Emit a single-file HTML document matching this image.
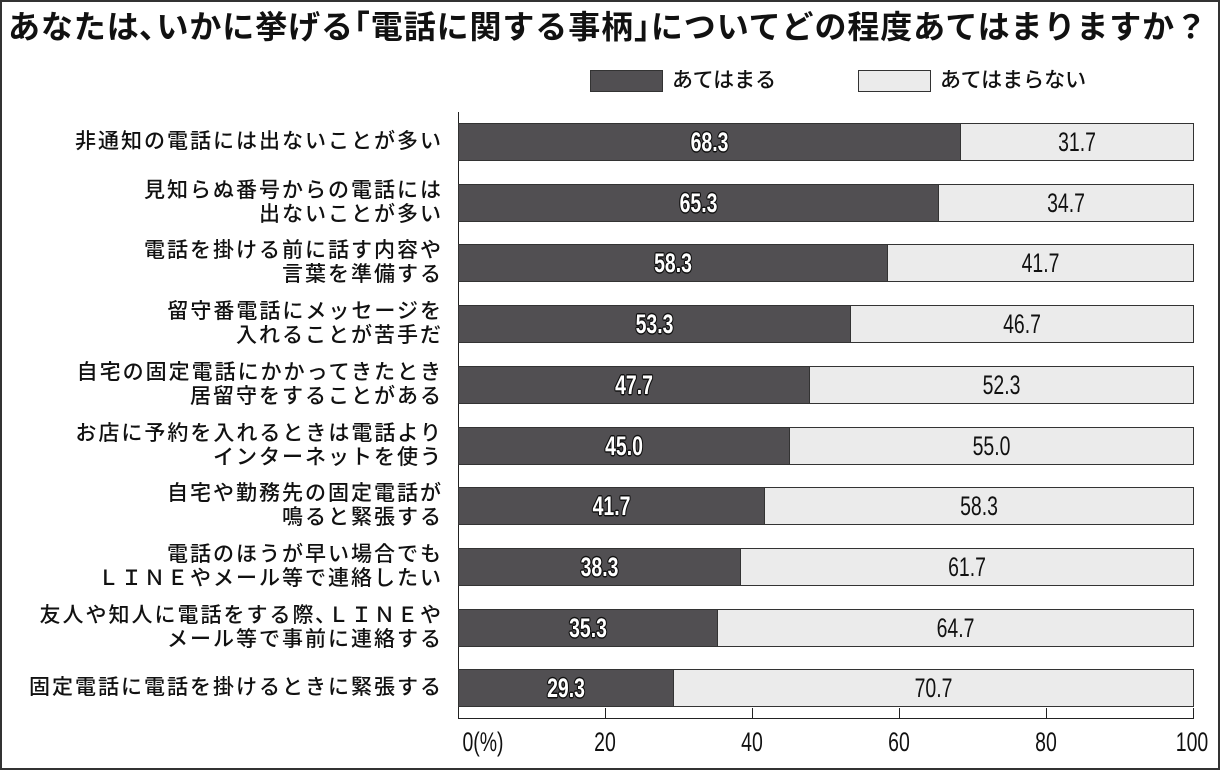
<!DOCTYPE html>
<html><head><meta charset="utf-8"><style>
*{margin:0;padding:0;box-sizing:border-box}
body{width:1220px;height:770px;background:#fff;position:relative;overflow:hidden;font-family:"Liberation Sans","Noto Sans CJK JP",sans-serif;color:#111}
.frame{position:absolute;left:0;top:0;width:1220px;height:770px;border:2px solid #333}
.title{position:absolute;left:8px;top:7px;width:1210px;font-size:32px;font-weight:bold;white-space:nowrap;line-height:40px;letter-spacing:0.9px}
.leg{position:absolute;height:22px;border:1px solid #333}
.legt{position:absolute;font-size:21px;line-height:24px;white-space:nowrap;font-weight:500}
.lab{position:absolute;right:777px;text-align:right;font-size:21px;line-height:24px;letter-spacing:2px;white-space:nowrap;font-weight:500}
.bar{position:absolute;height:38px;border:1px solid #333}
.d{background:#514f52}
.l{background:#ebebeb}
.v{position:absolute;top:0;width:100%;text-align:center;line-height:36px;font-size:27px;font-family:"Liberation Sans Narrow","Liberation Sans",sans-serif;transform:scaleX(0.72)}
.d .v{color:#fff;font-weight:bold;text-shadow:-1.5px 0 #111,1.5px 0 #111,0 -1.5px #111,0 1.5px #111,-1px -1px #111,1px 1px #111,1px -1px #111,-1px 1px #111}
.axis{position:absolute;background:#222}
.tick{position:absolute;font-size:27px;line-height:28px;transform:scaleX(0.72);transform-origin:center;width:80px;text-align:center}
</style></head><body>
<div class="frame"></div>
<div class="title">あなたは､いかに挙げる｢電話に関する事柄｣についてどの程度あてはまりますか？</div>
<div class="leg d" style="left:590px;top:70px;width:73px"></div>
<div class="legt" style="left:672px;top:69px">あてはまる</div>
<div class="leg l" style="left:858px;top:70px;width:73px"></div>
<div class="legt" style="left:940px;top:69px">あてはまらない</div>

<div class="axis" style="left:458px;top:112px;width:1px;height:607px"></div>
<div class="axis" style="left:458px;top:718px;width:736px;height:1px"></div>
<div class="axis" style="left:605px;top:708px;width:1px;height:11px"></div>
<div class="axis" style="left:752px;top:708px;width:1px;height:11px"></div>
<div class="axis" style="left:899px;top:708px;width:1px;height:11px"></div>
<div class="axis" style="left:1046px;top:708px;width:1px;height:11px"></div>
<div class="axis" style="left:1193px;top:708px;width:1px;height:11px"></div>
<div class="tick" style="left:443px;top:728px">0(%)</div>
<div class="tick" style="left:565px;top:728px">20</div>
<div class="tick" style="left:712px;top:728px">40</div>
<div class="tick" style="left:859px;top:728px">60</div>
<div class="tick" style="left:1006px;top:728px">80</div>
<div class="tick" style="left:1152px;top:728px">100</div>

<div id="rows"></div>
<script>
var data=[
["非通知の電話には出ないことが多い",68.3],
["見知らぬ番号からの電話には<br>出ないことが多い",65.3],
["電話を掛ける前に話す内容や<br>言葉を準備する",58.3],
["留守番電話にメッセージを<br>入れることが苦手だ",53.3],
["自宅の固定電話にかかってきたとき<br>居留守をすることがある",47.7],
["お店に予約を入れるときは電話より<br>インターネットを使う",45.0],
["自宅や勤務先の固定電話が<br>鳴ると緊張する",41.7],
["電話のほうが早い場合でも<br>ＬＩＮＥやメール等で連絡したい",38.3],
["友人や知人に電話をする際､ＬＩＮＥや<br>メール等で事前に連絡する",35.3],
["固定電話に電話を掛けるときに緊張する",29.3]];
var h="",x0=458,W=735;
data.forEach(function(r,i){
 var top=Math.round(123+60.7*i), v=r[1], w=Math.round(W*v/100);
 var two=r[0].indexOf("<br>")>=0;
 h+='<div class="lab" style="top:'+(two?top-5:top+7)+'px">'+r[0]+'</div>';
 h+='<div class="bar d" style="left:'+x0+'px;top:'+top+'px;width:'+(w+1)+'px"><div class="v">'+v.toFixed(1)+'</div></div>';
 h+='<div class="bar l" style="left:'+(x0+w)+'px;top:'+top+'px;width:'+(W-w+1)+'px"><div class="v">'+(100-v).toFixed(1)+'</div></div>';
});
document.getElementById("rows").innerHTML=h;
</script>
</body></html>
